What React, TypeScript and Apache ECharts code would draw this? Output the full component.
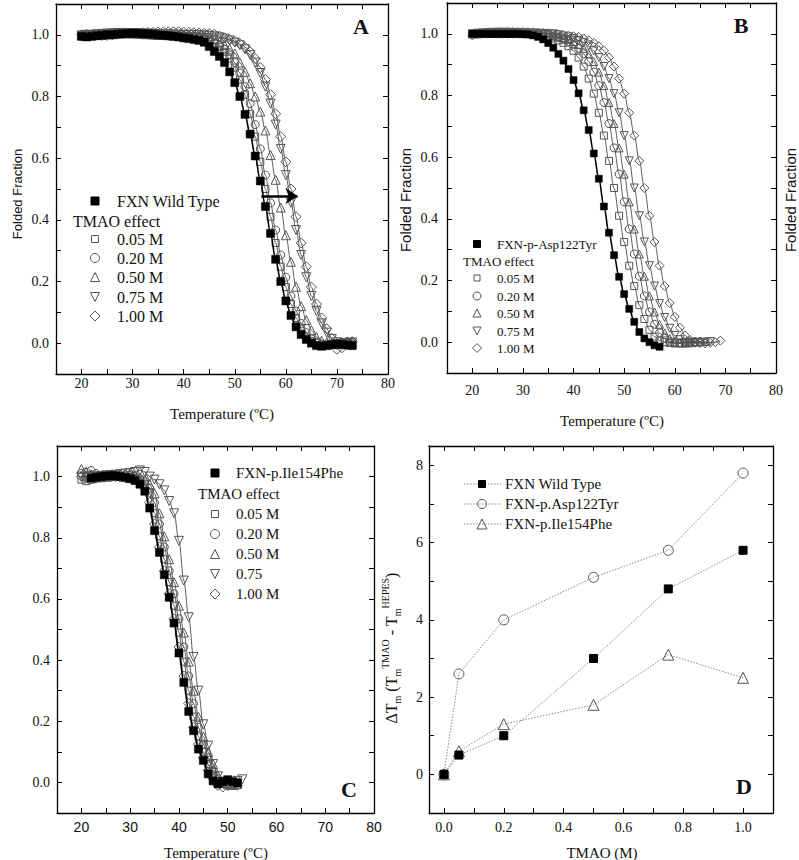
import React, { useEffect, useRef } from 'react';
import * as echarts from 'echarts';

const SERIF = '"Liberation Serif", "Times New Roman", serif';
const SANS = '"Liberation Sans", Arial, sans-serif';

// ---------- Panel A (FXN Wild Type) ----------
const TEMPS_A = [20,21,22,23,24,25,26,27,28,29,30,31,32,33,34,35,36,37,38,39,40,41,42,43,44,45,46,47,48,49,50,51,52,53,54,55,56,57,58,59,60,61,62,63,64,65,66,67,68,69,70,71,72,73];
const A_WT = [0.995,0.993,0.995,0.997,0.998,1.0,1.0,1.002,1.003,1.004,
  1.005,1.005,1.004,1.003,1.002,1.0,0.999,0.997,0.995,0.993,
  0.99,0.988,0.985,0.982,0.976,0.962,0.946,0.93,0.91,0.88,
  0.845,0.8,0.742,0.678,0.607,0.526,0.443,0.356,0.272,0.2,
  0.137,0.09,0.053,0.028,0.012,0.0,-0.008,-0.01,-0.008,-0.005,
  -0.003,-0.004,-0.006,-0.008];
const A_005 = [1.0,0.998,1.0,1.002,1.003,1.003,1.004,1.005,1.005,1.005,
  1.004,1.003,1.002,1.0,1.0,0.999,0.998,0.997,0.996,0.995,
  0.994,0.993,0.992,0.99,0.985,0.979,0.971,0.96,0.945,0.923,
  0.894,0.855,0.806,0.744,0.67,0.588,0.5,0.41,0.325,0.248,
  0.182,0.127,0.082,0.047,0.022,0.007,0.0,-0.005,-0.005,-0.003,
  0.0,0.002,0.0,-0.003];
const A_020 = [0.995,0.997,0.999,1.0,1.002,1.003,1.004,1.005,1.005,1.004,
  1.003,1.002,1.0,1.0,0.999,0.998,0.998,0.997,0.997,0.996,
  0.996,0.995,0.994,0.992,0.988,0.982,0.975,0.966,0.953,0.935,
  0.91,0.876,0.832,0.777,0.709,0.63,0.545,0.455,0.367,0.286,
  0.214,0.153,0.104,0.064,0.034,0.014,0.003,-0.003,-0.005,-0.004,
  0.0,0.003,0.005,0.004];
const A_050 = [1.0,0.998,1.0,1.001,1.003,1.004,1.005,1.006,1.006,1.005,
  1.005,1.004,1.003,1.002,1.001,1.0,1.0,0.999,0.999,0.998,
  0.998,0.997,0.996,0.995,0.993,0.99,0.985,0.977,0.967,0.955,
  0.94,0.91,0.88,0.843,0.8,0.751,0.69,0.61,0.53,0.44,
  0.35,0.264,0.183,0.12,0.075,0.042,0.02,0.008,0.002,0.0,
  -0.003,0.0,0.004,0.003];
const A_075 = [0.998,1.0,1.0,1.002,1.003,1.004,1.005,1.006,1.006,1.006,
  1.005,1.005,1.004,1.004,1.003,1.003,1.002,1.002,1.001,1.001,
  1.0,1.0,1.0,0.999,0.998,0.997,0.995,0.992,0.988,0.982,
  0.975,0.966,0.953,0.935,0.91,0.876,0.832,0.777,0.709,0.63,
  0.545,0.455,0.367,0.286,0.214,0.153,0.104,0.064,0.034,0.014,
  0.003,-0.003,0.0,0.002];
const A_100 = [1.0,1.002,1.0,1.0,0.998,0.998,1.0,1.002,1.004,1.005,
  1.006,1.006,1.007,1.008,1.008,1.009,1.01,1.01,1.01,1.01,
  1.009,1.008,1.007,1.006,1.005,1.004,1.002,0.996,0.99,0.985,
  0.979,0.971,0.96,0.945,0.923,0.894,0.855,0.806,0.744,0.67,
  0.588,0.5,0.41,0.325,0.248,0.182,0.127,0.082,0.047,0.015,
  -0.02,-0.015,-0.005,0.005];
const ARROW_A = [[55.2, 0.477], [62.3, 0.477]];

// ---------- Panel B (FXN-p.Asp122Tyr) ----------
const TEMPS_B = [20,21,22,23,24,25,26,27,28,29,30,31,32,33,34,35,36,37,38,39,40,41,42,43,44,45,46,47,48,49,50,51,52,53,54,55,56,57,58,59,60,61,62,63,64,65,66,67,68,69];
const B_WT = [1.0,1.0,1.0,1.0,1.0,1.0,1.0,1.0,1.0,1.0,
  0.999,0.998,0.995,0.99,0.982,0.97,0.955,0.935,0.913,0.886,
  0.85,0.807,0.752,0.688,0.612,0.53,0.44,0.355,0.282,0.212,
  0.156,0.108,0.066,0.033,0.012,0.0,-0.01,-0.015];
const B_005 = [1.0,1.0,1.0,1.0,1.0,1.0,1.0,1.0,1.0,1.0,
  1.0,0.999,0.998,0.996,0.994,0.99,0.985,0.979,0.971,0.96,
  0.945,0.923,0.894,0.855,0.806,0.744,0.67,0.588,0.5,0.41,
  0.325,0.248,0.182,0.12,0.075,0.04,0.018,0.005,0.0,-0.003,
  -0.004,-0.003,0.0,0.002,0.0];
const B_020 = [1.0,1.0,1.0,1.0,1.0,1.0,1.0,1.0,1.0,1.0,
  1.0,1.0,1.0,1.0,1.0,0.995,0.992,0.988,0.982,0.975,
  0.966,0.953,0.935,0.91,0.876,0.832,0.777,0.709,0.63,0.545,
  0.455,0.367,0.286,0.214,0.15,0.098,0.058,0.03,0.012,0.003,
  -0.002,-0.003,-0.002,0.0,0.002,0.002];
const B_050 = [1.0,1.0,1.002,1.003,1.003,1.004,1.004,1.004,1.003,1.003,
  1.002,1.002,1.001,1.0,1.0,1.0,0.995,0.992,0.988,0.982,
  0.975,0.966,0.953,0.935,0.91,0.876,0.832,0.777,0.709,0.63,
  0.545,0.455,0.367,0.286,0.214,0.15,0.098,0.058,0.03,0.012,
  0.003,-0.002,-0.003,-0.002,0.0,0.002,0.002];
const B_075 = [1.0,1.002,1.003,1.004,1.005,1.005,1.005,1.005,1.004,1.004,
  1.003,1.003,1.002,1.002,1.001,1.0,1.0,0.997,0.993,0.99,
  0.985,0.979,0.971,0.96,0.945,0.923,0.894,0.855,0.806,0.744,
  0.67,0.588,0.5,0.41,0.325,0.248,0.182,0.125,0.08,0.045,
  0.022,0.008,0.0,-0.003,-0.003,-0.002,0.0,0.002];
const B_100 = [0.995,1.0,1.002,1.003,1.004,1.005,1.005,1.006,1.006,1.006,
  1.006,1.005,1.005,1.004,1.003,1.002,1.0,0.998,0.996,0.994,
  0.992,0.99,0.985,0.979,0.971,0.96,0.945,0.923,0.894,0.855,
  0.806,0.744,0.67,0.588,0.5,0.41,0.325,0.248,0.182,0.127,
  0.082,0.047,0.022,0.007,0.0,-0.003,-0.004,-0.002,0.0,0.005];

// ---------- Panel C (FXN-p.Ile154Phe) ----------
const TEMPS_C = [20,21,22,23,24,25,26,27,28,29,30,31,32,33,34,35,36,37,38,39,40,41,42,43,44,45,46,47,48,49,50,51,52,53];
const C_WT_START = 2; // first point at 22 ºC
const C_WT = [0.995,0.998,1.0,1.002,1.003,1.003,1.0,0.997,0.993,0.987,
  0.975,0.952,0.897,0.823,0.752,0.679,0.605,0.521,0.423,0.327,
  0.232,0.169,0.109,0.072,0.028,0.005,-0.005,0.003,0.009,0.003,-0.002];
const C_005 = [0.99,0.985,0.99,0.995,0.998,1.0,1.0,1.0,1.0,1.0,
  0.998,0.995,0.99,0.975,0.945,0.88,0.805,0.73,0.655,0.578,
  0.49,0.395,0.3,0.215,0.15,0.1,0.06,0.022,0.004,-0.005,
  -0.005,-0.003,0.0];
const C_020 = [1.01,1.015,1.02,1.01,1.0,0.998,0.998,1.0,1.003,1.005,
  1.005,1.0,0.993,0.983,0.962,0.915,0.845,0.77,0.692,0.617,
  0.535,0.443,0.348,0.258,0.18,0.125,0.08,0.04,0.012,0.0,
  -0.005,-0.005,-0.002];
const C_050 = [1.025,1.015,1.005,0.998,0.998,1.0,1.002,1.004,1.006,1.008,
  1.008,1.005,0.995,0.99,0.975,0.945,0.88,0.805,0.73,0.655,
  0.578,0.49,0.395,0.3,0.215,0.15,0.1,0.06,0.022,0.004,
  -0.005,-0.008,-0.005];
const C_075 = [1.0,0.998,1.0,1.0,1.002,1.004,1.005,1.006,1.008,1.01,
  1.012,1.015,1.02,1.015,1.0,0.99,0.975,0.955,0.92,0.88,
  0.79,0.66,0.54,0.41,0.3,0.19,0.12,0.06,0.02,0.0,
  -0.01,-0.005,0.005,0.01];
const C_100 = [1.0,0.995,0.992,0.995,0.998,1.0,1.0,1.0,0.998,0.996,
  0.995,0.993,0.983,0.962,0.915,0.845,0.77,0.692,0.617,0.535,
  0.443,0.348,0.258,0.18,0.125,0.08,0.04,0.012,-0.01,-0.015,
  -0.01,-0.008,-0.01];

// ---------- Panel D (ΔTm vs TMAO) ----------
const TMAO = [0, 0.05, 0.2, 0.5, 0.75, 1.0];
const D_WT = [0, 0.5, 1.0, 3.0, 4.8, 5.8];
const D_ASP = [0, 2.6, 4.0, 5.1, 5.8, 7.8];
const D_ILE = [0, 0.6, 1.3, 1.8, 3.1, 2.5];
const D_NAMES = ['FXN Wild Type', 'FXN-p.Asp122Tyr', 'FXN-p.Ile154Phe'];

// ---------- Tick values / labels ----------
const T_TICKS = [15,20,25,30,35,40,45,50,55,60,65,70,75,80];
const T_LABELS = [20,30,40,50,60,70,80];
const F_TICKS = [-0.1,0,0.1,0.2,0.3,0.4,0.5,0.6,0.7,0.8,0.9,1.0,1.1];
const F_LABELS = [0,0.2,0.4,0.6,0.8,1.0];
const M_TICKS = [0,0.1,0.2,0.3,0.4,0.5,0.6,0.7,0.8,0.9,1.0,1.1];
const M_LABELS = [0,0.2,0.4,0.6,0.8,1.0];
const DT_TICKS = [-1,0,1,2,3,4,5,6,7,8];
const DT_LABELS = [0,2,4,6,8];
const TMAO_LABELS = ['0.05 M', '0.20 M', '0.50 M', '0.75 M', '1.00 M'];
const TMAO_LABELS_C = ['0.05 M', '0.20 M', '0.50 M', '0.75', '1.00 M'];

type Mk = { symbol: string; size: any; rotate?: number; filled?: boolean };
const MK_A: Record<string, Mk> = {
  fsq: { symbol: 'rect', size: 8, filled: true },
  sq: { symbol: 'rect', size: 7 },
  ci: { symbol: 'circle', size: 8 },
  tu: { symbol: 'triangle', size: 9 },
  td: { symbol: 'triangle', size: 9, rotate: 180 },
  di: { symbol: 'diamond', size: [10, 10] },
};
const MK_B: Record<string, Mk> = {
  fsq: { symbol: 'rect', size: 7, filled: true },
  sq: { symbol: 'rect', size: 7 },
  ci: { symbol: 'circle', size: 8 },
  tu: { symbol: 'triangle', size: 8 },
  td: { symbol: 'triangle', size: 8, rotate: 180 },
  di: { symbol: 'diamond', size: [9, 9] },
};

function curve(temps: number[], ys: number[], start: number, ax: number, mk: Mk) {
  return {
    type: 'line',
    xAxisIndex: ax,
    yAxisIndex: ax,
    data: ys.map((y, i) => [temps[start + i], y]),
    smooth: 0.35,
    smoothMonotone: 'x',
    symbol: mk.symbol,
    symbolSize: mk.size,
    symbolRotate: mk.rotate || 0,
    showSymbol: true,
    showAllSymbol: true,
    itemStyle: mk.filled
      ? { color: '#000', borderColor: '#000', borderWidth: 0.5 }
      : { color: 'rgba(255,255,255,0)', borderColor: '#555', borderWidth: 1 },
    lineStyle: { color: mk.filled ? '#000' : '#333', width: mk.filled ? 1.6 : 0.8 },
    z: mk.filled ? 5 : 3,
    emphasis: { disabled: true },
    silent: true,
  };
}

function xAxes(gridIndex: number, min: number, max: number, ticks: number[], labels: number[], label: any) {
  const line = { show: true, onZero: false, lineStyle: { color: '#000', width: 1.3 } };
  const tick = { show: true, inside: true, length: 5, customValues: ticks, lineStyle: { color: '#000', width: 1 } };
  return [
    { type: 'value', gridIndex, min, max, position: 'bottom', axisLine: line, axisTick: tick,
      axisLabel: { customValues: labels, color: '#111', ...label }, splitLine: { show: false } },
    { type: 'value', gridIndex, min, max, position: 'top', axisLine: line, axisTick: tick,
      axisLabel: { show: false }, splitLine: { show: false } },
  ];
}
function yAxes(gridIndex: number, min: number, max: number, ticks: number[], labels: number[], label: any) {
  const line = { show: true, onZero: false, lineStyle: { color: '#000', width: 1.3 } };
  const tick = { show: true, inside: true, length: 5, customValues: ticks, lineStyle: { color: '#000', width: 1 } };
  return [
    { type: 'value', gridIndex, min, max, position: 'left', axisLine: line, axisTick: tick,
      axisLabel: { customValues: labels, color: '#111', ...label }, splitLine: { show: false } },
    { type: 'value', gridIndex, min, max, position: 'right', axisLine: line, axisTick: tick,
      axisLabel: { show: false }, splitLine: { show: false } },
  ];
}

function markerEl(kind: string, cx: number, cy: number, s: number) {
  const style = kind === 'fsq'
    ? { fill: '#000', stroke: '#000', lineWidth: 1 }
    : { fill: 'none', stroke: '#555', lineWidth: 1 };
  const h = s / 2;
  if (kind === 'fsq' || kind === 'sq') return { type: 'rect', shape: { x: cx - h, y: cy - h, width: s, height: s }, style };
  if (kind === 'ci') return { type: 'circle', shape: { cx, cy, r: h }, style };
  if (kind === 'tu') return { type: 'polygon', shape: { points: [[cx, cy - h], [cx + h, cy + h], [cx - h, cy + h]] }, style };
  if (kind === 'td') return { type: 'polygon', shape: { points: [[cx - h, cy - h], [cx + h, cy - h], [cx, cy + h]] }, style };
  return { type: 'polygon', shape: { points: [[cx, cy - h], [cx + h, cy], [cx, cy + h], [cx - h, cy]] }, style };
}
function txt(text: string, x: number, y: number, size: number, family = SERIF, align = 'left') {
  return { type: 'text', x, y,
    style: { text, fill: '#111', fontSize: size, fontFamily: family, align, verticalAlign: 'middle' } };
}
function vtxt(text: string, x: number, y: number, size: number, family: string) {
  return { type: 'text', x, y, rotation: Math.PI / 2,
    style: { text, fill: '#111', fontSize: size, fontFamily: family, align: 'center', verticalAlign: 'middle' } };
}
function letter(text: string, x: number, y: number) {
  return { type: 'text', x, y, style: { text, fontSize: 22, fontWeight: 'bold', fontFamily: SERIF, fill: '#111', align: 'center', verticalAlign: 'middle' } };
}
function legendBlock(xMk: number, xTxt: number, ys: number[], head: string, headY: number, headerX: number,
  tmaoY: number, labels: string[], size: number, mk: number) {
  const els: any[] = [];
  els.push(markerEl('fsq', xMk, headY, mk));
  els.push(txt(head, xTxt, headY, size));
  els.push(txt('TMAO effect', headerX, tmaoY, size));
  const kinds = ['sq', 'ci', 'tu', 'td', 'di'];
  kinds.forEach((k, i) => {
    els.push(markerEl(k, xMk, ys[i], k === 'di' ? mk + 2 : k === 'sq' ? mk - 1 : mk + 1));
    els.push(txt(labels[i], xTxt, ys[i], size));
  });
  return els;
}

export default function App() {
  const ref = useRef<HTMLDivElement>(null);
  useEffect(() => {
    const chart = echarts.init(ref.current as HTMLDivElement, null, { renderer: 'svg' });
    const fmt1 = (v: number) => v.toFixed(1);
    const dLegendYs = [484, 504, 524];
    const dKinds = ['fsq', 'ci', 'tu'];
    const dSizes = [7, 9, 10];

    const graphic: any[] = [
      vtxt('Folded Fraction', 17, 194, 13, SANS),
      vtxt('Folded Fraction', 405, 200, 15, SANS),
      vtxt('Folded Fraction', 790, 200, 15, SANS),
      txt('Temperature (ºC)', 222, 414, 15, SERIF, 'center'),
      txt('Temperature (ºC)', 612, 421, 15, SERIF, 'center'),
      txt('Temperature (ºC)', 216, 853, 15, SERIF, 'center'),
      txt('TMAO (M)', 602, 853, 15, SERIF, 'center'),
      {
        type: 'text', x: 391, y: 648, rotation: Math.PI / 2,
        style: {
          text: '{m|ΔT}{s|m}{m| (T}{s|m}{p|TMAO}{m| - T}{s|m}{p|HEPES}{m|)}',
          align: 'center', verticalAlign: 'middle', fill: '#111',
          rich: {
            m: { fontSize: 16, fontFamily: SERIF, lineHeight: 22, verticalAlign: 'middle', fill: '#111' },
            s: { fontSize: 10, fontFamily: SERIF, lineHeight: 12, verticalAlign: 'bottom', fill: '#111' },
            p: { fontSize: 10, fontFamily: SERIF, lineHeight: 12, verticalAlign: 'top', fill: '#111' },
          },
        },
      },
      letter('A', 361, 26),
      letter('B', 741, 25),
      letter('C', 349, 789),
      letter('D', 744, 786),
      ...legendBlock(95, 117, [239, 258, 277, 297, 316], 'FXN Wild Type', 201, 73, 221, TMAO_LABELS, 16, 8),
      ...legendBlock(477, 497, [278, 296, 313, 331, 348], 'FXN-p-Asp122Tyr', 244, 463, 261, TMAO_LABELS, 13, 7),
      ...legendBlock(215, 236, [514, 534, 554, 574, 594], 'FXN-p.Ile154Phe', 473, 198, 494, TMAO_LABELS_C, 15, 8),
    ];
    dLegendYs.forEach((y, i) => {
      graphic.push({ type: 'line', shape: { x1: 464, y1: y, x2: 501, y2: y }, style: { stroke: '#888', lineWidth: 1, lineDash: [1.5, 1.5] } });
      graphic.push(markerEl(dKinds[i], 482, y, dSizes[i]));
      graphic.push(txt(D_NAMES[i], 505, y, 15));
    });

    const dSeries = (ys: number[], kind: string) => ({
      type: 'line', xAxisIndex: 6, yAxisIndex: 6,
      data: ys.map((y, i) => [TMAO[i], y]),
      symbol: kind === 'fsq' ? 'rect' : kind === 'ci' ? 'circle' : 'triangle',
      symbolSize: kind === 'fsq' ? 8 : kind === 'ci' ? 10 : 11,
      showSymbol: true,
      itemStyle: kind === 'fsq'
        ? { color: '#000', borderColor: '#000' }
        : { color: 'rgba(255,255,255,0)', borderColor: '#555', borderWidth: 1 },
      lineStyle: { color: '#888', width: 1, type: [1.5, 1.5] },
      z: kind === 'fsq' ? 5 : 4,
      emphasis: { disabled: true },
      silent: true,
    });

    const option: any = {
      animation: false,
      backgroundColor: '#fff',
      grid: [
        { left: 56, top: 4, width: 332, height: 370 },
        { left: 447, top: 3, width: 329, height: 370 },
        { left: 57, top: 446, width: 317, height: 367 },
        { left: 429, top: 446, width: 344, height: 367 },
      ],
      xAxis: [
        ...xAxes(0, 15, 80, T_TICKS, T_LABELS, { margin: 2, fontFamily: SERIF, fontSize: 14 }),
        ...xAxes(1, 15, 80, T_TICKS, T_LABELS, { margin: 10, fontFamily: SERIF, fontSize: 14 }),
        ...xAxes(2, 15, 80, T_TICKS, T_LABELS, { margin: 7, fontFamily: SANS, fontSize: 14 }),
        ...xAxes(3, -0.05, 1.1, M_TICKS, M_LABELS, { margin: 7, fontFamily: SERIF, fontSize: 14, formatter: fmt1 }),
      ],
      yAxis: [
        ...yAxes(0, -0.1, 1.1, F_TICKS, F_LABELS, { margin: 7, fontFamily: SERIF, fontSize: 14, formatter: fmt1 }),
        ...yAxes(1, -0.1, 1.1, F_TICKS, F_LABELS, { margin: 9, fontFamily: SERIF, fontSize: 14, formatter: fmt1 }),
        ...yAxes(2, -0.1, 1.1, F_TICKS, F_LABELS, { margin: 7, fontFamily: SERIF, fontSize: 14, formatter: fmt1 }),
        ...yAxes(3, -1, 8.5, DT_TICKS, DT_LABELS, { margin: 6, fontFamily: SERIF, fontSize: 14 }),
      ],
      series: [
        curve(TEMPS_A, A_005, 0, 0, MK_A.sq),
        curve(TEMPS_A, A_020, 0, 0, MK_A.ci),
        curve(TEMPS_A, A_050, 0, 0, MK_A.tu),
        curve(TEMPS_A, A_075, 0, 0, MK_A.td),
        curve(TEMPS_A, A_100, 0, 0, MK_A.di),
        {
          ...curve(TEMPS_A, A_WT, 0, 0, MK_A.fsq),
          markLine: {
            silent: true, symbol: ['none', 'arrow'], symbolSize: 12,
            label: { show: false },
            emphasis: { disabled: true },
            lineStyle: { color: '#000', width: 2.5, type: 'solid' },
            data: [[{ coord: ARROW_A[0] }, { coord: ARROW_A[1] }]],
          },
        },
        curve(TEMPS_B, B_005, 0, 2, MK_B.sq),
        curve(TEMPS_B, B_020, 0, 2, MK_B.ci),
        curve(TEMPS_B, B_050, 0, 2, MK_B.tu),
        curve(TEMPS_B, B_075, 0, 2, MK_B.td),
        curve(TEMPS_B, B_100, 0, 2, MK_B.di),
        curve(TEMPS_B, B_WT, 0, 2, MK_B.fsq),
        curve(TEMPS_C, C_005, 0, 4, MK_A.sq),
        curve(TEMPS_C, C_020, 0, 4, MK_A.ci),
        curve(TEMPS_C, C_050, 0, 4, MK_A.tu),
        curve(TEMPS_C, C_075, 0, 4, MK_A.td),
        curve(TEMPS_C, C_100, 0, 4, MK_A.di),
        curve(TEMPS_C, C_WT, C_WT_START, 4, MK_A.fsq),
        dSeries(D_WT, 'fsq'),
        dSeries(D_ASP, 'ci'),
        dSeries(D_ILE, 'tu'),
      ],
      graphic,
    };
    chart.setOption(option);
    return () => chart.dispose();
  }, []);
  return <div ref={ref} style={{ position: 'absolute', left: 0, top: 0, width: 799, height: 860, background: '#fff' }} />;
}
